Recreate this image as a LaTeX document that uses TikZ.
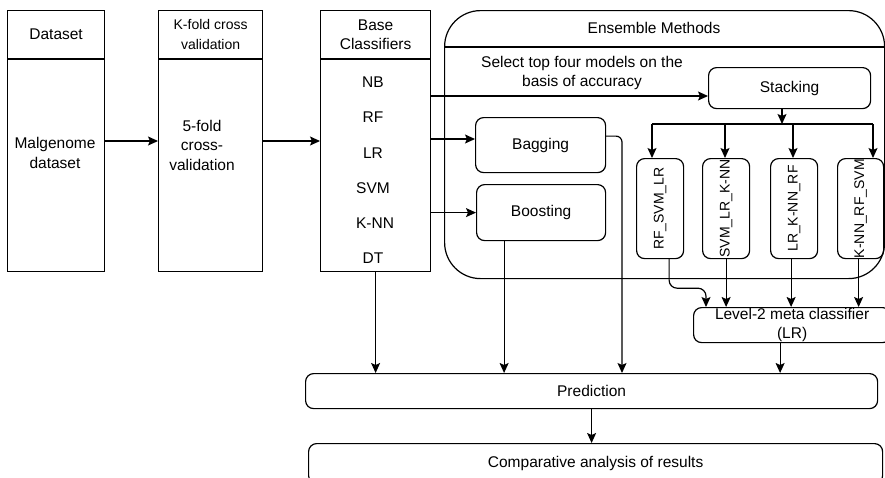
\documentclass[tikz,border=0pt]{standalone}
\usepackage{fontspec}
\setmainfont{Liberation Sans}
\usetikzlibrary{arrows.meta,positioning}

\begin{document}
\begin{tikzpicture}[
        x=1pt, y=-1pt,
        line width=1.2pt,
        font=\fontsize{15.5}{19.5}\selectfont,
        arr/.style={-{Stealth[length=10pt,width=9pt,inset=2pt]}},
        colhead/.style={draw, minimum height=48pt, align=center, inner sep=2pt, anchor=north west},
        colbody/.style={draw, minimum height=212pt},
        rbox/.style={draw, rounded corners=8pt, align=center, anchor=north west},
        model/.style={rbox, minimum width=47pt, minimum height=100pt, inner sep=0pt, font=\fontsize{14}{17}\selectfont},
        wide/.style={rbox, minimum height=35pt, inner sep=0pt},
        lbl/.style={align=center}
    ]
        \useasboundingbox (0,0) rectangle (885,477);

        % ========================================================
        % COLUMNAS: DATASET, K-FOLD, BASE CLASSIFIERS
        % ========================================================
        \node[colhead, minimum width=97pt] (dshead) at (7,10) {Dataset};
        \node[colbody, minimum width=97pt, below=0pt of dshead] (dsbody) {};
        \node[lbl] (dstext) at (55,153) {Malgenome\\dataset};

        \node[colhead, minimum width=104pt, font=\fontsize{14}{19.5}\selectfont] (kfhead) at (158,10) {K-fold cross\\validation};
        \node[colbody, minimum width=104pt, below=0pt of kfhead] (kfbody) {};
        \node[lbl] (kftext) at (202,145) {5-fold\\cross-\\validation};

        \node[colhead, minimum width=110pt] (bchead) at (320,10) {Base\\Classifiers};
        \node[colbody, minimum width=110pt, below=0pt of bchead] (bcbody) {};

        \node (nb) at (373,82) {NB};
        \node (rf) at (373,117) {RF};
        \node (lr) at (373,153) {LR};
        \node (svm) at (373,188) {SVM};
        \node (knn) at (375,223) {K-NN};
        \node (dt) at (373,258) {DT};

        % ========================================================
        % ENSEMBLE METHODS
        % ========================================================
        \node[draw, rounded corners=36pt, minimum width=440pt, minimum height=268pt, anchor=north west] (ens) at (444,10) {};
        \draw (ens.west |- 0,47) -- (ens.east |- 0,47);
        \node (enstitle) at (654,28) {Ensemble Methods};
        \node[lbl] (select) at (582,73) {Select top four models on the\\basis of accuracy};

        \node[rbox, minimum width=162pt, minimum height=41pt] (stack) at (708,67) {Stacking};
        \node[rbox, minimum width=130pt, minimum height=55pt] (bag) at (475,117) {Bagging};
        \node[rbox, minimum width=129pt, minimum height=56pt] (boost) at (476,184) {Boosting};

        \node[model] (m1) at (636,158) {\rotatebox{90}{RF\_SVM\_LR}};
        \node[model] (m2) at (702,158) {\rotatebox{90}{SVM\_LR\_K-NN}};
        \node[model] (m3) at (770,158) {\rotatebox{90}{LR\_K-NN\_RF}};
        \node[model, minimum width=46pt] (m4) at (837,158) {\rotatebox{90}{K-NN\_RF\_SVM}};

        \node[wide, minimum width=197pt] (lvl2) at (693,307) {Level-2 meta classifier\\(LR)};

        % ========================================================
        % PREDICTION Y ANALISIS
        % ========================================================
        \node[wide, minimum width=572pt] (pred) at (305,373) {Prediction};
        \node[rbox, minimum width=574pt, minimum height=40pt] (comp) at (308,443) {Comparative analysis of results};

        % ========================================================
        % CONECTORES
        % ========================================================
        \coordinate (row) at (0,141);
        \draw[arr] (dsbody.east |- row) -- (kfbody.west |- row);
        \draw[arr] (kfbody.east |- row) -- (bcbody.west |- row);

        \coordinate (selrow) at (0,96);
        \draw[arr] (bcbody.east |- selrow) -- (stack.west |- selrow);
        \draw[arr] (bcbody.east |- 0,139) -- (bag.west |- 0,139);
        \draw[arr] (bcbody.east |- boost.west) -- (boost.west);

        \coordinate (split) at (782,124);
        \coordinate (s1) at (652,124);
        \coordinate (s2) at (725,124);
        \coordinate (s3) at (793,124);
        \coordinate (s4) at (873,124);
        \draw[arr] (stack.south -| split) -- (split);
        \draw (s1) -- (s4);
        \draw[arr] (s1) -- (m1.north -| s1);
        \draw[arr] (s2) -- (m2.north -| s2);
        \draw[arr] (s3) -- (m3.north -| s3);
        \draw[arr] (s4) -- (m4.north -| s4);

        \coordinate (m3out) at ([xshift=-3pt]m3.south);
        \coordinate (m4out) at ([xshift=-2pt]m4.south);
        \draw[arr, rounded corners=8pt] ([xshift=9pt]m1.south) -- ++(0,29) -| ([xshift=13pt]lvl2.north west);
        \draw[arr] (m2.south) -- (lvl2.north -| m2.south);
        \draw[arr] (m3out) -- (lvl2.north -| m3out);
        \draw[arr] (m4out) -- (lvl2.north -| m4out);

        \coordinate (lvlout) at ([xshift=-12pt]lvl2.south);
        \draw[arr] (lvlout) -- (lvlout |- pred.north);

        \coordinate (bagdrop) at (622,0);
        \draw[arr, rounded corners=6pt] ([yshift=9pt]bag.east) -| (bagdrop |- pred.north);
        \coordinate (boostout) at ([xshift=-37pt]boost.south);
        \draw[arr] (boostout) -- (boostout |- pred.north);
        \draw[arr] (bcbody.south) -- (bcbody.south |- pred.north);

        \draw[arr] (pred.south) -- (pred.south |- comp.north);

    \end{tikzpicture}
\end{document}
